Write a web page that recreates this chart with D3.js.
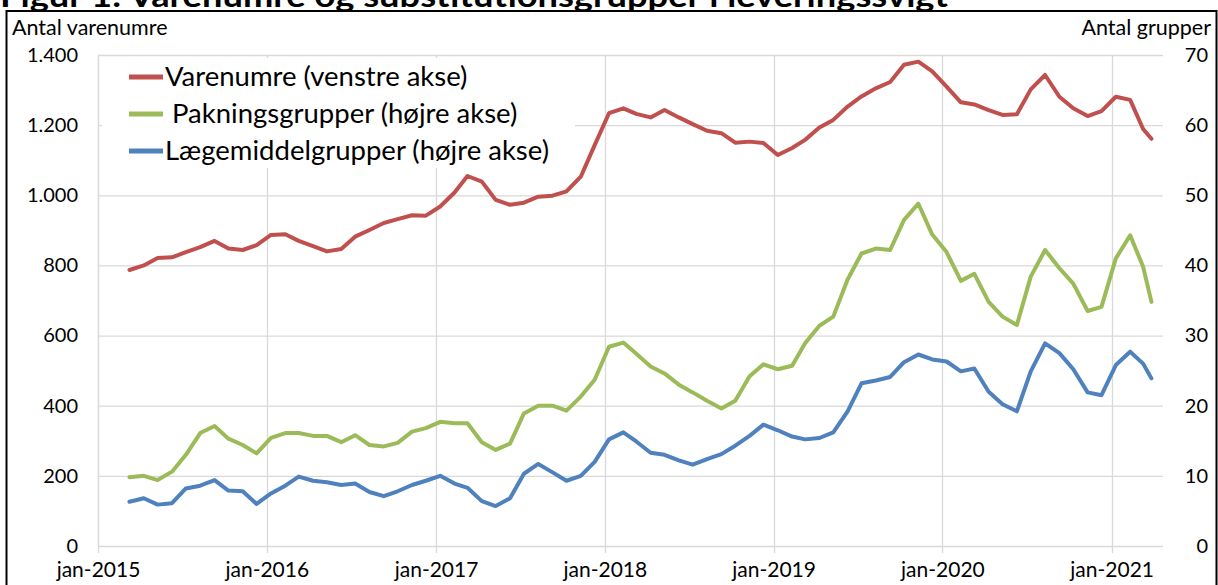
<!DOCTYPE html>
<html>
<head>
<meta charset="utf-8">
<script src="https://cdn.jsdelivr.net/npm/d3@7"></script>
<style>
  body { margin: 0; background: #fff; }
  svg { display: block; font-family: Lato, "Open Sans", sans-serif; }
  .legend text { white-space: pre; }
</style>
</head>
<body>
<svg width="1218" height="585"></svg>
<script>
// monthly readings, mar-2015 .. mar-2021, plus the last period
const dates = d3.range(73).map(i => new Date(2015, 2 + i, 10)).concat([new Date(2021, 2, 28)]);

const varenumre = [
  787, 800, 821, 823, 838, 852, 870, 848, 844, 858,
  887, 889, 870, 855, 840, 847, 882, 901, 921, 932,
  943, 942, 968, 1008, 1055, 1039, 987, 973, 979, 996,
  999, 1011, 1053, 1143, 1234, 1248, 1232, 1222, 1243, 1222,
  1203, 1184, 1177, 1150, 1153, 1149, 1115, 1135, 1158, 1193,
  1215, 1253, 1282, 1305, 1323, 1372, 1381, 1353, 1310, 1265,
  1259, 1243, 1229, 1231, 1302, 1343, 1281, 1248, 1226, 1240,
  1281, 1272, 1189, 1161
];
const pakningsgrupper = [
  9.8, 10.0, 9.4, 10.6, 13.0, 16.1, 17.1, 15.3, 14.4, 13.2,
  15.4, 16.1, 16.1, 15.7, 15.7, 14.8, 15.8, 14.4, 14.2, 14.7,
  16.3, 16.8, 17.7, 17.5, 17.5, 14.8, 13.7, 14.6, 18.9, 20.0,
  20.0, 19.3, 21.3, 23.7, 28.4, 29.0, 27.4, 25.6, 24.6, 23.0,
  21.9, 20.7, 19.6, 20.7, 24.2, 25.9, 25.2, 25.7, 28.9, 31.4,
  32.7, 38.0, 41.7, 42.4, 42.2, 46.5, 48.8, 44.4, 41.9, 37.8,
  38.8, 34.8, 32.7, 31.5, 38.4, 42.2, 39.6, 37.4, 33.5, 34.1,
  41.0, 44.3, 39.8, 34.8
];
const laegemiddelgrupper = [
  6.3, 6.8, 5.9, 6.1, 8.2, 8.6, 9.4, 7.9, 7.8, 6.0,
  7.5, 8.6, 9.9, 9.3, 9.1, 8.7, 8.9, 7.7, 7.1, 7.8,
  8.7, 9.3, 10.0, 8.9, 8.3, 6.4, 5.7, 6.8, 10.3, 11.7,
  10.5, 9.3, 10.0, 12.0, 15.2, 16.2, 14.9, 13.3, 13.0, 12.2,
  11.6, 12.4, 13.1, 14.3, 15.7, 17.3, 16.5, 15.6, 15.2, 15.4,
  16.2, 19.2, 23.2, 23.6, 24.1, 26.2, 27.3, 26.6, 26.3, 24.9,
  25.3, 22.0, 20.2, 19.2, 24.9, 28.9, 27.5, 25.2, 21.9, 21.5,
  25.8, 27.7, 26.0, 23.9
];

const yearTicks = d3.range(2015, 2022).map(y => new Date(y, 0, 1));
const leftTicks = [0, 200, 400, 600, 800, 1000, 1200, 1400];
const rightTicks = [0, 10, 20, 30, 40, 50, 60, 70];

const series = [
  { name: "Varenumre (venstre akse)", values: varenumre, axis: "left", color: "#C0504D" },
  { name: " Pakningsgrupper (højre akse)", values: pakningsgrupper, axis: "right", color: "#9BBB59" },
  { name: "Lægemiddelgrupper (højre akse)", values: laegemiddelgrupper, axis: "right", color: "#4F81BD" }
];

const plot = { left: 98, right: 1163, top: 55, bottom: 546 };
const grid = "#d9d9d9";

const svg = d3.select("svg");

const x = d3.scaleTime().domain([new Date(2015, 0, 1), new Date(2021, 3, 22)]).range([plot.left, plot.right]);
const yL = d3.scaleLinear().domain([0, 1400]).range([plot.bottom, plot.top]);
const yR = d3.scaleLinear().domain([0, 70]).range([plot.bottom, plot.top]);

const da = d3.formatLocale({ decimal: ",", thousands: ".", grouping: [3], currency: ["", " kr."] });

// title (cut off at the top of the picture, as in the source)
svg.append("text")
  .attr("x", 0).attr("y", 7)
  .attr("textLength", 948).attr("lengthAdjust", "spacingAndGlyphs")
  .style("font-weight", "bold").style("font-size", "30px")
  .text("Figur 1: Varenumre og substitutionsgrupper i leveringssvigt");

// frame
svg.append("rect")
  .attr("x", 6.5).attr("y", 11).attr("width", 1210).attr("height", 620)
  .attr("fill", "none").attr("stroke", "#000").attr("stroke-width", 2);

// gridlines
svg.append("g").selectAll("line").data(leftTicks).enter().append("line")
  .attr("x1", plot.left).attr("x2", plot.right)
  .attr("y1", d => yL(d) + 0.5).attr("y2", d => yL(d) + 0.5)
  .attr("stroke", grid).attr("stroke-width", 1.3);

svg.append("g").selectAll("line").data(yearTicks).enter().append("line")
  .attr("x1", d => Math.round(x(d)) + 0.5).attr("x2", d => Math.round(x(d)) + 0.5)
  .attr("y1", plot.top).attr("y2", plot.bottom + 7)
  .attr("stroke", grid).attr("stroke-width", 1.3);

// left axis line
svg.append("line")
  .attr("x1", plot.left + 0.5).attr("x2", plot.left + 0.5).attr("y1", plot.top).attr("y2", plot.bottom)
  .attr("stroke", grid).attr("stroke-width", 1.3);

// axes
const axisL = svg.append("g").attr("transform", `translate(${plot.left},0)`)
  .call(d3.axisLeft(yL).tickValues(leftTicks).tickSize(0).tickPadding(20).tickFormat(da.format(",")));
const axisR = svg.append("g").attr("transform", `translate(${plot.right},0)`)
  .call(d3.axisRight(yR).tickValues(rightTicks).tickSize(0).tickFormat(d3.format("d")));
const axisB = svg.append("g").attr("transform", `translate(0,${plot.bottom})`)
  .call(d3.axisBottom(x).tickValues(yearTicks).tickSize(0).tickFormat(d => "jan-" + d.getFullYear()));

[axisL, axisR, axisB].forEach(a => {
  a.select(".domain").remove();
  a.selectAll("text").attr("fill", "#000").style("font-size", "20px").style("font-family", "Lato");
});
axisR.selectAll("text").attr("text-anchor", "end").attr("x", 45);
axisB.selectAll("text").attr("y", 31).attr("dy", 0).style("font-size", "21px");

// axis titles
svg.append("text").attr("x", 12).attr("y", 35).style("font-size", "21.5px").text("Antal varenumre");
svg.append("text").attr("x", 1211).attr("y", 35).attr("text-anchor", "end").style("font-size", "21.5px").text("Antal grupper");

// lines
const lineFor = s => d3.line()
  .x((d, i) => x(dates[i]))
  .y(d => (s.axis === "left" ? yL : yR)(d));

svg.append("g").selectAll("path").data(series).enter().append("path")
  .attr("fill", "none")
  .attr("stroke", d => d.color)
  .attr("stroke-width", 4)
  .attr("stroke-linejoin", "round")
  .attr("stroke-linecap", "round")
  .attr("d", d => lineFor(d)(d.values));

// legend
const legend = svg.append("g").attr("class", "legend");
legend.append("rect").attr("x", 102).attr("y", 58).attr("width", 473).attr("height", 110).attr("fill", "#fff");
const item = legend.selectAll("g.item").data(series).enter().append("g")
  .attr("class", "item")
  .attr("transform", (d, i) => `translate(0,${77 + i * 37})`);
item.append("line").attr("x1", 129).attr("x2", 163).attr("stroke", d => d.color).attr("stroke-width", 5);
item.append("text").attr("x", 165).attr("y", 9).style("font-size", "27.5px").text(d => d.name);
</script>
</body>
</html>
